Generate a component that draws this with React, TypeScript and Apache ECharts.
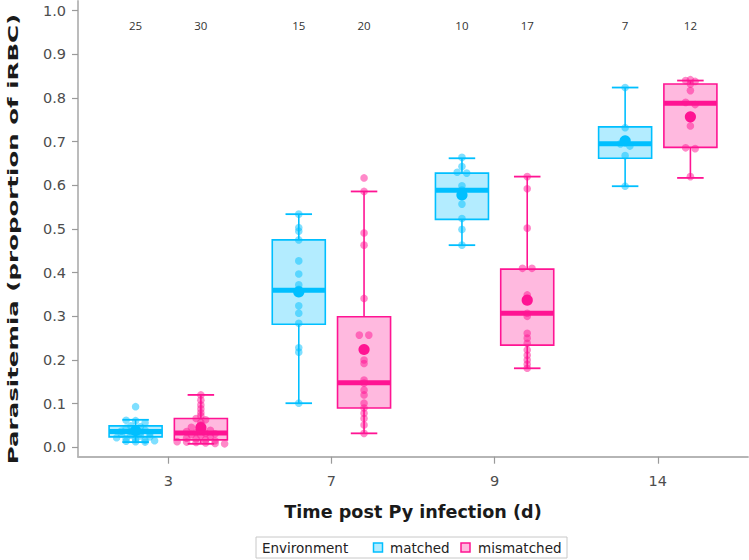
import React, { useEffect, useRef } from "react";
import * as echarts from "echarts";

// ---------- data ----------
const categories = ["3", "7", "9", "14"];
const yTickValues = [0, 0.1, 0.2, 0.3, 0.4, 0.5, 0.6, 0.7, 0.8, 0.9, 1.0];
const environments = ["matched", "mismatched"];

const matchedCounts = [25, 15, 10, 7];
const mismatchedCounts = [30, 20, 17, 12];

// [lower whisker, Q1, median, Q3, upper whisker]
const matchedBoxes = [
  [0.012, 0.024, 0.036, 0.049, 0.063],
  [0.101, 0.282, 0.36, 0.475, 0.534],
  [0.463, 0.522, 0.589, 0.628, 0.662],
  [0.598, 0.662, 0.695, 0.734, 0.824],
];
const mismatchedBoxes = [
  [0.008, 0.017, 0.033, 0.066, 0.12],
  [0.032, 0.09, 0.148, 0.299, 0.586],
  [0.181, 0.234, 0.307, 0.408, 0.62],
  [0.617, 0.687, 0.788, 0.832, 0.84],
];

const matchedMeans = [0.038, 0.356, 0.578, 0.702];
const mismatchedMeans = [0.045, 0.224, 0.337, 0.757];

const matchedDay3 = [0.012, 0.013, 0.014, 0.015, 0.016, 0.018, 0.02, 0.022, 0.024, 0.026, 0.028, 0.03, 0.032, 0.034, 0.036, 0.037, 0.039, 0.041, 0.044, 0.047, 0.049, 0.056, 0.061, 0.062, 0.093];
const matchedDay7 = [0.534, 0.503, 0.495, 0.475, 0.427, 0.397, 0.372, 0.362, 0.355, 0.324, 0.307, 0.284, 0.228, 0.218, 0.101];
const matchedDay9 = [0.664, 0.643, 0.63, 0.628, 0.599, 0.589, 0.557, 0.524, 0.499, 0.463];
const matchedDay14 = [0.824, 0.732, 0.705, 0.695, 0.69, 0.668, 0.598];

const mismatchedDay3 = [0.008, 0.009, 0.01, 0.011, 0.012, 0.013, 0.015, 0.017, 0.019, 0.021, 0.024, 0.027, 0.029, 0.031, 0.032, 0.034, 0.036, 0.039, 0.042, 0.046, 0.051, 0.057, 0.063, 0.066, 0.072, 0.079, 0.088, 0.097, 0.108, 0.12];
const mismatchedDay7 = [0.617, 0.586, 0.491, 0.463, 0.341, 0.257, 0.257, 0.222, 0.2, 0.192, 0.154, 0.147, 0.131, 0.12, 0.101, 0.09, 0.078, 0.066, 0.051, 0.032];
const mismatchedDay9 = [0.62, 0.592, 0.502, 0.41, 0.41, 0.349, 0.335, 0.307, 0.3, 0.261, 0.25, 0.238, 0.223, 0.211, 0.2, 0.19, 0.181];
const mismatchedDay14 = [0.842, 0.84, 0.838, 0.832, 0.817, 0.79, 0.785, 0.76, 0.736, 0.686, 0.684, 0.62];

const matchedPoints = [matchedDay3, matchedDay7, matchedDay9, matchedDay14];
const mismatchedPoints = [mismatchedDay3, mismatchedDay7, mismatchedDay9, mismatchedDay14];

// ---------- style ----------
const CYAN = "#00BFFF";
const CYAN_FILL = "#B3ECFF";
const PINK = "#FF1493";
const PINK_FILL = "#FFB9DF";
const DODGE = 0.2;
const BOX_W = 0.325;
const FONT = '"DejaVu Sans", sans-serif';

function centerSwarm(pys: number[], bin: number, gap: number): number[] {
  const bins = new Map<number, number[]>();
  pys.forEach((y, i) => {
    const k = Math.floor(y / bin);
    if (!bins.has(k)) bins.set(k, []);
    bins.get(k)!.push(i);
  });
  const offs = new Array(pys.length).fill(0);
  bins.forEach((list) => {
    list.sort((a, b) => pys[a] - pys[b]);
    const n = list.length;
    list.forEach((idx, j) => {
      offs[idx] = (j - (n - 1) / 2) * gap;
    });
  });
  return offs;
}

function makeRender(
  boxes: number[][],
  points: number[][],
  means: number[],
  counts: number[],
  color: string,
  fill: string,
  offset: number
) {
  return (params: any, api: any) => {
    const i = params.dataIndex;
    const xc = i + offset;
    const b = boxes[i];
    const cs = params.coordSys;
    const cx = api.coord([xc, 0])[0];
    const half = api.coord([xc + BOX_W / 2, 0])[0] - cx;
    const py = (v: number) => api.coord([xc, v])[1];
    const yLow = py(b[0]);
    const yQ1 = py(b[1]);
    const yMed = py(b[2]);
    const yQ3 = py(b[3]);
    const yHigh = py(b[4]);
    const capHalf = half / 2;
    const children: any[] = [];
    children.push({
      type: "rect",
      shape: { x: cx - half, y: yQ3, width: 2 * half, height: yQ1 - yQ3 },
      style: { fill, stroke: color, lineWidth: 1.6 },
    });
    children.push({
      type: "line",
      shape: { x1: cx, y1: yQ3, x2: cx, y2: yHigh },
      style: { stroke: color, lineWidth: 1.6 },
    });
    children.push({
      type: "line",
      shape: { x1: cx, y1: yQ1, x2: cx, y2: yLow },
      style: { stroke: color, lineWidth: 1.6 },
    });
    children.push({
      type: "line",
      shape: { x1: cx - capHalf, y1: yHigh, x2: cx + capHalf, y2: yHigh },
      style: { stroke: color, lineWidth: 1.8 },
    });
    children.push({
      type: "line",
      shape: { x1: cx - capHalf, y1: yLow, x2: cx + capHalf, y2: yLow },
      style: { stroke: color, lineWidth: 1.8 },
    });
    children.push({
      type: "line",
      shape: { x1: cx - half, y1: yMed, x2: cx + half, y2: yMed },
      style: { stroke: color, lineWidth: 5 },
    });
    const pys = points[i].map((v) => py(v));
    const offs = centerSwarm(pys, 3.5, 9.5);
    pys.forEach((y, k) => {
      children.push({
        type: "circle",
        shape: { cx: cx + offs[k], cy: y, r: 3.8 },
        style: { fill: color, opacity: 0.5 },
      });
    });
    children.push({
      type: "circle",
      shape: { cx, cy: py(means[i]), r: 5.6 },
      style: { fill: color },
    });
    children.push({
      type: "text",
      x: cx,
      y: cs.y + 24.5,
      style: {
        text: String(counts[i]),
        align: "center",
        verticalAlign: "middle",
        fontSize: 11.5,
        fontFamily: '"Open Sans", sans-serif',
        fill: "#333333",
      },
    });
    return { type: "group", children };
  };
}

export default function App() {
  const ref = useRef<HTMLDivElement>(null);
  useEffect(() => {
    const chart = echarts.init(ref.current!, null, { renderer: "svg" });
    const tickIdx = categories.map((_, i) => i);
    const option: any = {
      animation: false,
      backgroundColor: "#ffffff",
      grid: { left: 78, right: 1, top: 1, bottom: 103.3, outerBoundsMode: "none" },
      xAxis: {
        type: "value",
        min: -0.553,
        max: 3.553,
        axisLine: { show: true, onZero: false, lineStyle: { color: "#b5b5b5", width: 1.8 } },
        axisTick: { show: true, customValues: tickIdx, length: 7, lineStyle: { color: "#9a9a9a", width: 1.2 } },
        axisLabel: {
          customValues: tickIdx,
          formatter: (v: number) => categories[Math.round(v)],
          margin: 17,
          fontSize: 14.5,
          fontFamily: FONT,
          color: "#4d4d4d",
        },
        splitLine: { show: false },
      },
      yAxis: {
        type: "value",
        min: -0.0215,
        max: 1.0222,
        axisLine: { show: true, onZero: false, lineStyle: { color: "#b5b5b5", width: 1.8 } },
        axisTick: { show: true, customValues: yTickValues, length: 6, lineStyle: { color: "#9a9a9a", width: 1.2 } },
        axisLabel: {
          customValues: yTickValues,
          formatter: (v: number) => v.toFixed(1),
          margin: 12,
          fontSize: 14.5,
          fontFamily: FONT,
          color: "#4d4d4d",
        },
        splitLine: { show: false },
      },
      series: [
        {
          type: "custom",
          name: environments[0],
          silent: true,
          clip: false,
          encode: { x: 0, y: 1 },
          data: matchedBoxes.map((b, i) => [i - DODGE, b[2]]),
          renderItem: makeRender(matchedBoxes, matchedPoints, matchedMeans, matchedCounts, CYAN, CYAN_FILL, -DODGE),
        },
        {
          type: "custom",
          name: environments[1],
          silent: true,
          clip: false,
          encode: { x: 0, y: 1 },
          data: mismatchedBoxes.map((b, i) => [i + DODGE, b[2]]),
          renderItem: makeRender(mismatchedBoxes, mismatchedPoints, mismatchedMeans, mismatchedCounts, PINK, PINK_FILL, DODGE),
        },
      ],
      graphic: [
        {
          type: "text",
          x: 12.5,
          y: 239,
          rotation: Math.PI / 2,
          scaleX: 1.7,
          style: {
            text: "Parasitemia (proportion of iRBC)",
            align: "center",
            verticalAlign: "middle",
            fontSize: 14.4,
            fontWeight: "bold",
            fontFamily: FONT,
            fill: "#1a1a1a",
          },
        },
        {
          type: "text",
          x: 413,
          y: 512,
          style: {
            text: "Time post Py infection (d)",
            align: "center",
            verticalAlign: "middle",
            fontSize: 17.6,
            fontWeight: "bold",
            fontFamily: FONT,
            fill: "#1a1a1a",
          },
        },
        {
          type: "rect",
          shape: { x: 256, y: 537, width: 311, height: 21 },
          style: { fill: "#ffffff", stroke: "#c8c8c8", lineWidth: 1 },
        },
        {
          type: "text",
          x: 262,
          y: 548,
          style: { text: "Environment", align: "left", verticalAlign: "middle", fontSize: 13.5, fontFamily: FONT, fill: "#222222" },
        },
        {
          type: "rect",
          shape: { x: 373.5, y: 543, width: 9, height: 9 },
          style: { fill: CYAN_FILL, stroke: CYAN, lineWidth: 1.5 },
        },
        {
          type: "text",
          x: 390,
          y: 548,
          style: { text: environments[0], align: "left", verticalAlign: "middle", fontSize: 13.5, fontFamily: FONT, fill: "#222222" },
        },
        {
          type: "rect",
          shape: { x: 461, y: 543, width: 9, height: 9 },
          style: { fill: PINK_FILL, stroke: PINK, lineWidth: 1.5 },
        },
        {
          type: "text",
          x: 478,
          y: 548,
          style: { text: environments[1], align: "left", verticalAlign: "middle", fontSize: 13.5, fontFamily: FONT, fill: "#222222" },
        },
      ],
    };
    chart.setOption(option);
    return () => chart.dispose();
  }, []);
  return <div ref={ref} style={{ position: "fixed", left: 0, top: 0, width: 749, height: 560 }} />;
}
